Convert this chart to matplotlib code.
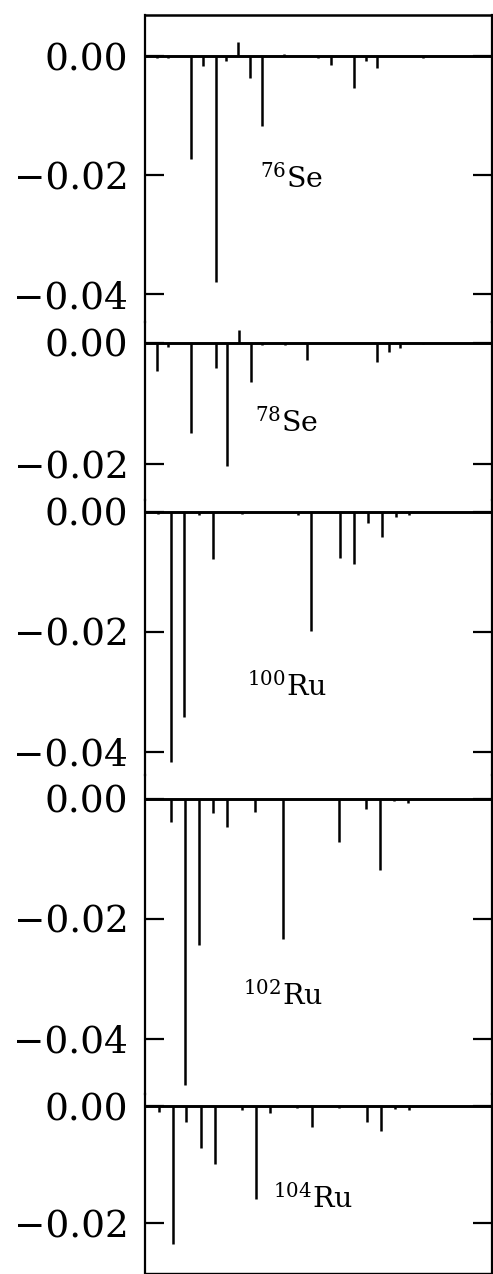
import matplotlib
matplotlib.use("Agg")
import matplotlib.pyplot as plt
from matplotlib.ticker import FixedLocator, FuncFormatter

plt.rcParams['font.family'] = ['DejaVu Serif']
plt.rcParams['mathtext.fontset'] = 'dejavuserif'

# ---------------- data ----------------
labels = [r'$^{76}$Se', r'$^{78}$Se', r'$^{100}$Ru', r'$^{102}$Ru', r'$^{104}$Ru']

x_se76 = [1.0, 2.0, 4.0, 5.0, 6.1, 7.0, 8.0, 9.05, 10.1, 12.0, 14.9, 16.0, 18.0, 19.05, 20.0, 24.0]
v_se76 = [-0.0003, -0.0003, -0.0173, -0.0017, -0.0380, -0.0009, 0.0024, -0.0037,
          -0.0118, 0.0003, -0.0003, -0.0015, -0.0054, -0.0008, -0.0021, -0.0003]

x_se78 = [1.0, 2.0, 4.0, 6.1, 7.1, 8.1, 9.1, 10.1, 12.1, 14.0, 20.0, 21.0, 22.0, 24.0]
v_se78 = [-0.0047, -0.0006, -0.0148, -0.0041, -0.0204, 0.0021, -0.0065, -0.0004,
          -0.0003, -0.0028, -0.0032, -0.0015, -0.0008, -0.0002]

x_ru100 = [1.15, 2.2, 3.36, 4.68, 5.84, 8.34, 13.16, 14.34, 16.84, 18.02, 19.2, 20.4, 21.6, 22.78]
v_ru100 = [-0.0003, -0.0417, -0.0343, -0.0005, -0.0079, -0.0004, -0.0005, -0.0199,
           -0.0077, -0.0087, -0.0018, -0.0041, -0.0008, -0.0005]

x_ru102 = [2.24, 3.45, 4.68, 5.89, 7.09, 9.48, 11.92, 16.75, 19.05, 20.26, 21.47, 22.65]
v_ru102 = [-0.0038, -0.0477, -0.0243, -0.0024, -0.0047, -0.0021, -0.0234, -0.0071,
           -0.0016, -0.0118, -0.0003, -0.0006]

x_ru104 = [1.21, 2.39, 3.53, 4.8, 6.03, 8.34, 9.57, 10.78, 13.13, 14.37, 16.75, 19.16, 20.37, 21.58, 22.78]
v_ru104 = [-0.0011, -0.0235, -0.0027, -0.0072, -0.0099, -0.0007, -0.0158, -0.0012,
           -0.0004, -0.0035, -0.0004, -0.0027, -0.0042, -0.0005, -0.0006]

yticks = [0.0, -0.02, -0.04]

xs = [x_se76, x_se78, x_ru100, x_ru102, x_ru104]
vs = [v_se76, v_se78, v_ru100, v_ru102, v_ru104]

# ---------------- layout ----------------
W, H = 493, 1274
fig = plt.figure(figsize=(W / 100, H / 100), dpi=100)

left_px, right_px = 145, 492
# (top_px, bottom_px, ylim_top, ylim_bottom)
panels = [
    (15, 322, 0.00689, -0.0447),
    (322, 500, 0.00347, -0.02595),
    (500, 775, 0.0020, -0.0439),
    (775, 1094, 0.0040, -0.0492),
    (1094, 1273, 0.00205, -0.0285),
]
label_pos = [(9.9, -0.0222), (9.5, -0.01466), (8.8, -0.0306), (8.45, -0.0343), (11.03, -0.0174)]

fmt = FuncFormatter(lambda v, p: ("%.2f" % v).replace('-', '\u2212') if abs(v) > 1e-9 else "0.00")

n = len(panels)
for i, ((tp, bp, yt, yb), x, v, lab, (lx, ly)) in enumerate(zip(panels, xs, vs, labels, label_pos)):
    ax = fig.add_axes([left_px / W, 1 - bp / H, (right_px - left_px) / W, (bp - tp) / H])
    ax.set_xlim(0, (right_px - left_px) / 11.6)
    ax.set_ylim(yb, yt)
    ax.axhline(0, color='black', lw=2.1, zorder=3)
    ax.vlines(x, 0, v, color='black', lw=1.8, zorder=3)
    ax.text(lx, ly, lab, fontsize=20.5, ha='left', va='baseline')

    ax.set_xticks([])
    ax.yaxis.set_major_locator(FixedLocator([t for t in yticks if yb < t < yt + 1e-9]))
    ax.yaxis.set_major_formatter(fmt)
    ax.tick_params(axis='y', which='both', direction='in', length=14, width=1.6,
                   left=True, right=True, labelsize=27, pad=12)

    for s in ('left', 'right'):
        ax.spines[s].set_linewidth(1.6)
    ax.spines['top'].set_linewidth(1.8)
    ax.spines['bottom'].set_linewidth(1.0)
    ax.spines['top'].set_visible(i == 0)
    ax.spines['bottom'].set_visible(i == n - 1)
    ax.patch.set_alpha(0)

fig.savefig("out.png", dpi=100)
